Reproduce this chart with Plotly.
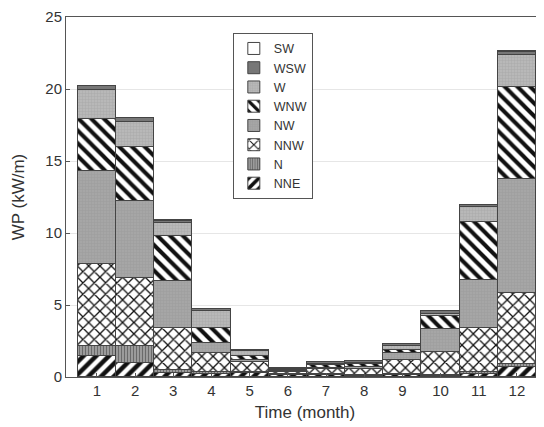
import plotly.graph_objects as go

months = list(range(1, 13))
tick_labels = [str(m) for m in months]

NNE = [1.46, 0.99, 0.25, 0.23, 0.28, 0.16, 0.15, 0.10, 0.12, 0.07, 0.19, 0.72]
N   = [0.71, 1.18, 0.24, 0.14, 0.10, 0.04, 0.05, 0.04, 0.08, 0.06, 0.18, 0.17]
NNW = [5.70, 4.68, 2.89, 1.32, 0.65, 0.18, 0.35, 0.45, 0.99, 1.62, 3.05, 4.93]
NW  = [6.46, 5.37, 3.29, 0.65, 0.15, 0.05, 0.10, 0.12, 0.46, 1.55, 3.32, 7.91]
WNW = [3.57, 3.78, 3.13, 1.04, 0.30, 0.06, 0.15, 0.17, 0.23, 0.97, 4.05, 6.40]
W   = [2.03, 1.72, 0.90, 1.20, 0.30, 0.08, 0.12, 0.12, 0.30, 0.14, 1.04, 2.24]
WSW = [0.27, 0.28, 0.15, 0.14, 0.12, 0.08, 0.10, 0.10, 0.12, 0.16, 0.12, 0.23]
SW  = [0.03, 0.02, 0.02, 0.01, 0.01, 0.01, 0.01, 0.01, 0.01, 0.02, 0.02, 0.03]

series = [
    ("NNE", NNE, dict(shape="/", fgcolor="#111111", bgcolor="white", size=9, solidity=0.5, fillmode="replace")),
    ("N", N, dict(shape="|", fgcolor="#6a6a6a", bgcolor="#a0a0a0", size=3, solidity=0.4, fillmode="replace")),
    ("NNW", NNW, dict(shape="x", fgcolor="#111111", bgcolor="white", size=8, solidity=0.3, fillmode="replace")),
    ("NW", NW, dict(shape="+", fgcolor="#9c9c9c", bgcolor="#a6a6a6", size=3, solidity=0.3, fillmode="replace")),
    ("WNW", WNW, dict(shape="\\", fgcolor="#111111", bgcolor="white", size=9, solidity=0.45, fillmode="replace")),
    ("W", W, dict(shape="+", fgcolor="#a8a8a8", bgcolor="#b8b8b8", size=3, solidity=0.3, fillmode="replace")),
    ("WSW", WSW, None),
    ("SW", SW, None),
]
solid = {"WSW": "#777777", "SW": "#ffffff"}

fig = go.Figure()
for name, vals, pat in series:
    marker = dict(line=dict(color="#444444", width=1))
    if pat is None:
        marker["color"] = solid[name]
    else:
        marker["color"] = pat["bgcolor"]
        marker["pattern"] = pat
    fig.add_trace(go.Bar(x=months, y=vals, name=name, width=1, marker=marker))

fig.update_layout(
    barmode="stack",
    bargap=0,
    width=536, height=419,
    margin=dict(l=58, r=0, t=9, b=50),
    paper_bgcolor="white", plot_bgcolor="white",
    font=dict(family="Liberation Sans, Arial, sans-serif", size=14, color="#333333"),
    legend=dict(
        x=0.349, y=0.956, xanchor="left", yanchor="top",
        traceorder="reversed",
        bordercolor="#555555", borderwidth=1,
        bgcolor="white",
        font=dict(size=12.5, color="#333333"),
        tracegroupgap=0,
        itemwidth=30,
    ),
    showlegend=True,
)
fig.update_xaxes(
    range=[0.19, 12.71], tickmode="array", tickvals=months, ticktext=tick_labels,
    showline=True, linecolor="#555555", linewidth=1, mirror=True,
    ticks="inside", ticklen=4, tickcolor="#555555", showgrid=False,
    title=dict(text="Time (month)", standoff=8), tickfont=dict(size=15),
)
fig.update_yaxes(
    range=[0, 25], tickvals=[0, 5, 10, 15, 20, 25],
    showline=True, linecolor="#555555", linewidth=1, mirror="ticks",
    ticks="inside", ticklen=4, tickcolor="#555555",
    showgrid=True, gridcolor="#e6e6e6", gridwidth=1,
    title=dict(text="WP (kW/m)", standoff=16), tickfont=dict(size=15),
    zeroline=False,
)

fig.write_html("out.html")
